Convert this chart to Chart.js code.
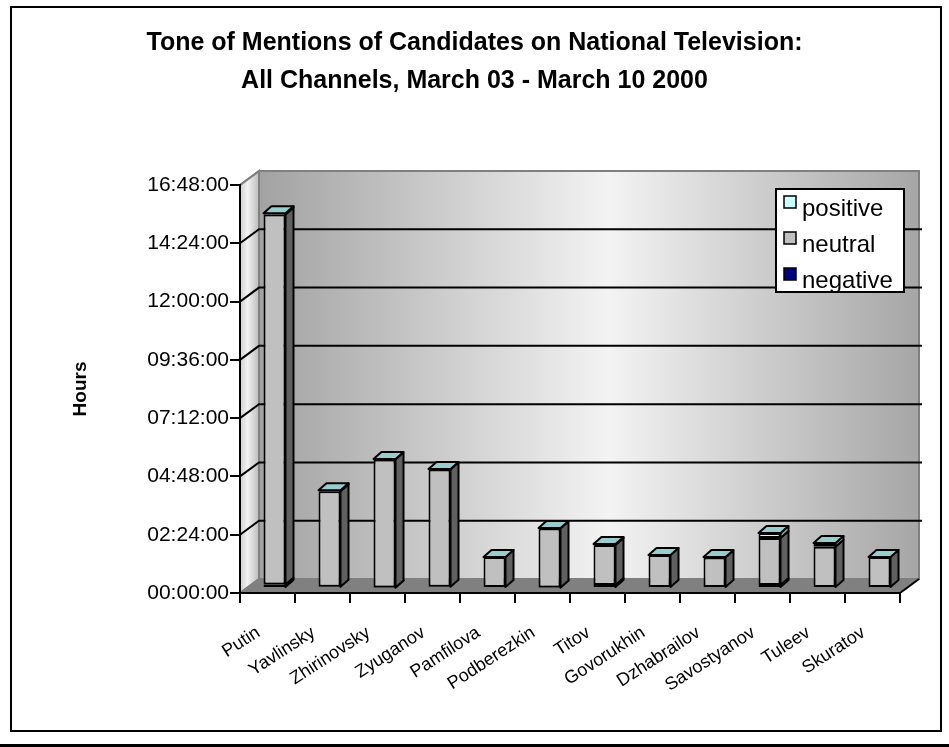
<!DOCTYPE html>
<html>
<head>
<meta charset="utf-8">
<script src="https://cdn.jsdelivr.net/npm/chart.js@4.4.1/dist/chart.umd.min.js"></script>
<style>
  body { margin: 0; background: #ffffff; }
  #wrap { width: 949px; height: 747px; position: relative; }
</style>
</head>
<body>
<div id="wrap"><canvas id="chart1"></canvas></div>
<script>
// candidates and hours of airtime by tone
const categories = ['Putin', 'Yavlinsky', 'Zhirinovsky', 'Zyuganov', 'Pamfilova', 'Podberezkin',
    'Titov', 'Govorukhin', 'Dzhabrailov', 'Savostyanov', 'Tuleev', 'Skuratov'];
const negative = [0.14, 0.05, 0.02, 0.05, 0, 0.02, 0.12, 0, 0.04, 0.12, 0, 0];
const neutral = [15.24, 3.93, 5.27, 4.83, 1.28, 2.43, 1.65, 1.36, 1.22, 1.94, 1.70, 1.28];
const positive = [0.05, 0.05, 0.02, 0.02, 0, 0.02, 0.04, 0, 0.02, 0.20, 0.15, 0];
const yTickLabels = ['00:00:00', '02:24:00', '04:48:00', '07:12:00', '09:36:00', '12:00:00', '14:24:00', '16:48:00'];

const FONT = 'Arial, "Liberation Sans", sans-serif';
const DX = 19, DY = -14;      // depth of the walls
const BDX = 8, BDY = -7;      // depth of the bars
const SHIFT_X = 7, SHIFT_Y = -5;

// back wall, side wall, floor and gridlines behind everything
const walls = {
    id: 'walls',
    beforeDraw(chart) {
        const ctx = chart.ctx;
        const a = chart.chartArea;
        const ys = chart.scales.y;
        ctx.save();
        // back wall
        let g = ctx.createLinearGradient(a.left + DX, 0, a.right + DX, 0);
        g.addColorStop(0, '#a2a2a2');
        g.addColorStop(0.53, '#f3f3f3');
        g.addColorStop(1, '#a6a6a6');
        ctx.fillStyle = g;
        ctx.fillRect(a.left + DX, a.top + DY, a.right - a.left, a.bottom - a.top);
        ctx.strokeStyle = '#808080';
        ctx.lineWidth = 2;
        ctx.strokeRect(a.left + DX, a.top + DY, a.right - a.left, a.bottom - a.top);
        // left side wall
        g = ctx.createLinearGradient(a.left, 0, a.left + DX, 0);
        g.addColorStop(0, '#d0d0d0');
        g.addColorStop(0.4, '#f2f2f2');
        g.addColorStop(1, '#bcbcbc');
        ctx.fillStyle = g;
        ctx.beginPath();
        ctx.moveTo(a.left, a.top);
        ctx.lineTo(a.left + DX, a.top + DY);
        ctx.lineTo(a.left + DX, a.bottom + DY);
        ctx.lineTo(a.left, a.bottom);
        ctx.closePath();
        ctx.fill();
        ctx.stroke();
        // floor
        ctx.fillStyle = '#808080';
        ctx.beginPath();
        ctx.moveTo(a.left, a.bottom);
        ctx.lineTo(a.left + DX, a.bottom + DY);
        ctx.lineTo(a.right + DX, a.bottom + DY);
        ctx.lineTo(a.right, a.bottom);
        ctx.closePath();
        ctx.fill();
        ctx.strokeStyle = '#000000';
        ctx.beginPath();
        ctx.moveTo(a.right, a.bottom);
        ctx.lineTo(a.right + DX, a.bottom + DY);
        ctx.stroke();
        // gridlines
        ys.ticks.forEach(function (t) {
            const y = ys.getPixelForValue(t.value);
            const edge = t.value === 0 || t.value >= ys.max - 0.001;
            ctx.strokeStyle = edge ? '#808080' : '#000000';
            ctx.beginPath();
            ctx.moveTo(a.left, y);
            ctx.lineTo(a.left + DX, y + DY);
            if (!edge) ctx.lineTo(a.right + DX + 3, y + DY);
            ctx.stroke();
        });
        ctx.restore();
    }
};

// bars sit half way into the depth and get a side and a top face
const bars3d = {
    id: 'bars3d',
    beforeDatasetsDraw(chart) {
        chart.ctx.save();
        chart.ctx.translate(SHIFT_X, SHIFT_Y);
    },
    afterDatasetsDraw(chart) {
        const ctx = chart.ctx;
        const sides = ['#000040', '#606060', '#7aa8a8'];
        ctx.lineWidth = 2;
        ctx.lineJoin = 'round';
        ctx.strokeStyle = '#000000';
        categories.forEach(function (c, j) {
            let topEl = null;
            chart.data.datasets.forEach(function (ds, i) {
                const el = chart.getDatasetMeta(i).data[j];
                const p = el.getProps(['x', 'y', 'base', 'width'], true);
                const r = p.x + p.width / 2;
                const top = Math.min(p.y, p.base), bot = Math.max(p.y, p.base);
                topEl = p;
                if (bot - top < 0.5) return;
                ctx.fillStyle = sides[i];
                ctx.beginPath();
                ctx.moveTo(r, top);
                ctx.lineTo(r + BDX, top + BDY);
                ctx.lineTo(r + BDX, bot + BDY);
                ctx.lineTo(r, bot);
                ctx.closePath();
                ctx.fill();
                ctx.stroke();
            });
            const l = topEl.x - topEl.width / 2, r = topEl.x + topEl.width / 2;
            const t = Math.min(topEl.y, topEl.base);
            ctx.fillStyle = '#99cccc';
            ctx.beginPath();
            ctx.moveTo(l, t);
            ctx.lineTo(l + BDX, t + BDY);
            ctx.lineTo(r + BDX, t + BDY);
            ctx.lineTo(r, t);
            ctx.closePath();
            ctx.fill();
            ctx.stroke();
        });
        ctx.restore();
    }
};

// legend box inside the plot, the outer frame and the bottom rule
const extras = {
    id: 'extras',
    afterDraw(chart) {
        const ctx = chart.ctx;
        ctx.save();
        ctx.fillStyle = '#ffffff';
        ctx.strokeStyle = '#000000';
        ctx.lineWidth = 2;
        ctx.fillRect(776, 189, 128, 103);
        ctx.strokeRect(776, 189, 128, 103);
        const items = chart.data.datasets.slice().reverse();
        ctx.font = '24px ' + FONT;
        ctx.textBaseline = 'middle';
        items.forEach(function (ds, i) {
            const y = 208 + i * 36;
            ctx.fillStyle = ds.backgroundColor;
            ctx.fillRect(784, y - 12, 12, 12);
            ctx.lineWidth = 1.5;
            ctx.strokeRect(784, y - 12, 12, 12);
            ctx.fillStyle = '#000000';
            ctx.fillText(ds.label, 802, y + 1);
        });
        ctx.lineWidth = 2;
        ctx.strokeRect(11, 7, 930, 724);
        ctx.lineWidth = 3;
        ctx.beginPath();
        ctx.moveTo(0, 745.5);
        ctx.lineTo(949, 745.5);
        ctx.stroke();
        ctx.restore();
    }
};

const ctx1 = document.getElementById('chart1');
const myChart = new Chart(ctx1, {
    type: 'bar',
    data: {
        labels: categories,
        datasets: [{
            label: 'negative',
            data: negative,
            backgroundColor: '#000080'
        }, {
            label: 'neutral',
            data: neutral,
            backgroundColor: '#c0c0c0'
        }, {
            label: 'positive',
            data: positive,
            backgroundColor: '#ccffff'
        }]
    },
    options: {
        responsive: true,
        maintainAspectRatio: false,
        animation: false,
        clip: false,
        borderColor: '#000000',
        borderWidth: 2,
        borderSkipped: false,
        categoryPercentage: 1,
        barPercentage: 0.4,
        layout: {
            padding: { left: 49, right: 49, top: 0, bottom: 0 }
        },
        scales: {
            x: {
                stacked: true,
                afterFit: function (axis) { axis.height = 154; },
                grid: {
                    drawOnChartArea: false,
                    tickLength: 10,
                    color: '#000000',
                    lineWidth: 2
                },
                border: { color: '#000000', width: 2 },
                ticks: {
                    color: '#000000',
                    minRotation: 33,
                    maxRotation: 33,
                    padding: 19,
                    labelOffset: -9,
                    font: { family: FONT, size: 18 }
                }
            },
            y: {
                stacked: true,
                min: 0,
                max: 16.8,
                afterFit: function (axis) { axis.width = 191; },
                grid: {
                    drawOnChartArea: false,
                    tickLength: 10,
                    color: '#000000',
                    lineWidth: 2
                },
                border: { color: '#000000', width: 2 },
                ticks: {
                    stepSize: 2.4,
                    color: '#000000',
                    padding: 1,
                    font: { family: FONT, size: 21 },
                    callback: function (v, i) { return yTickLabels[i]; }
                },
                title: {
                    display: true,
                    text: 'Hours',
                    color: '#000000',
                    padding: { top: 20, bottom: 0 },
                    font: { family: FONT, size: 19, weight: 'bold' }
                }
            }
        },
        plugins: {
            title: {
                display: true,
                text: ['Tone of Mentions of Candidates on National Television:', 'All Channels, March 03 - March 10 2000'],
                color: '#000000',
                padding: { top: 24, bottom: 85 },
                font: { family: FONT, size: 25, weight: 'bold', lineHeight: 1.52 }
            },
            legend: { display: false },
            tooltip: { enabled: false }
        }
    },
    plugins: [walls, bars3d, extras]
});
</script>
</body>
</html>
